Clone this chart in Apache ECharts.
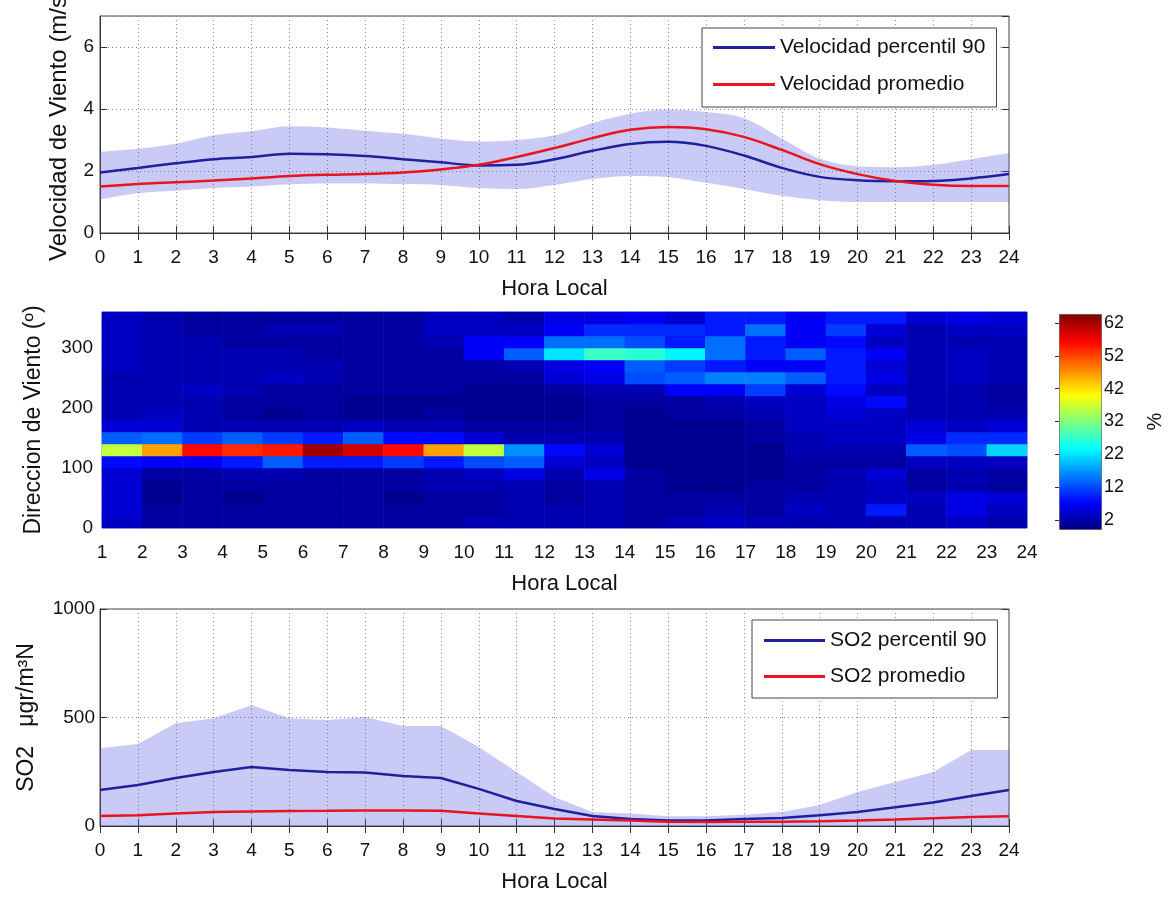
<!DOCTYPE html>
<html><head><meta charset="utf-8">
<script src="https://cdn.jsdelivr.net/npm/echarts@6/dist/echarts.min.js"></script>
<style>html,body{margin:0;padding:0;background:#fff}#c{width:1168px;height:897px}</style>
</head><body><div id="c"></div>
<script>
// ---------- DATA ----------
const horas = ['0','1','2','3','4','5','6','7','8','9','10','11','12','13','14','15','16','17','18','19','20','21','22','23','24'];
// Velocidad de viento (m/s)
const velP90  = [1.95,2.1,2.25,2.38,2.45,2.56,2.54,2.48,2.38,2.28,2.18,2.2,2.38,2.65,2.87,2.94,2.81,2.5,2.1,1.81,1.7,1.67,1.68,1.76,1.9];
const velProm = [1.5,1.58,1.64,1.69,1.76,1.84,1.88,1.9,1.95,2.05,2.2,2.45,2.74,3.06,3.33,3.42,3.35,3.1,2.68,2.22,1.9,1.68,1.56,1.52,1.52];
const velSup  = [2.62,2.72,2.88,3.15,3.28,3.44,3.4,3.3,3.2,3.05,2.95,3.0,3.15,3.55,3.85,3.98,3.9,3.7,3.05,2.4,2.15,2.12,2.2,2.38,2.58];
const velInf  = [1.08,1.28,1.36,1.45,1.5,1.57,1.6,1.6,1.58,1.55,1.45,1.42,1.55,1.74,1.84,1.8,1.62,1.42,1.2,1.06,1.0,1.0,1.0,1.0,1.0];
// SO2 (ugr/m3N)
const so2P90  = [166,189,221,249,272,258,249,247,230,221,171,115,78,46,32,25,25,32,37,50,65,86,108,138,166];
const so2Prom = [46,50,58,65,67,69,70,72,72,70,58,46,34,30,25,20,18,20,20,22,25,30,36,42,45];
const so2Sup  = [358,378,474,497,557,497,488,502,461,461,364,249,134,65,58,45,45,52,65,97,157,203,249,350,350];
const so2Inf  = [0,0,0,0,0,0,0,0,0,0,0,0,0,0,0,0,0,0,0,0,0,0,0,0,0];
// Direccion de viento: frecuencia (%) por hora (columnas 1-2 ... 23-24) y sector de 20 grados (filas 0-20 ... 340-360)
const horaBins = ['1','2','3','4','5','6','7','8','9','10','11','12','13','14','15','16','17','18','19','20','21','22','23'];
const dirBins = ['0','20','40','60','80','100','120','140','160','180','200','220','240','260','280','300','320','340'];
const frec = [
  [6,4,4,4,4,4, 4,4,4,5,5,5, 5,4,5,6,5,5, 5,5,5,6,5],
  [7,4,4,4,4,4, 4,4,4,4,5,5, 5,4,4,5,4,6, 5,11,5,8,6],
  [7,3,4,3,4,4, 4,3,4,4,5,4, 5,4,4,4,4,5, 5,6,6,8,7],
  [7,3,4,4,4,4, 4,4,5,5,5,4, 5,4,3,3,4,4, 5,6,4,5,4],
  [7,4,4,5,5,4, 4,4,5,6,8,5, 8,4,3,3,3,4, 5,7,4,5,4],
  [10,9,9,11,15,11, 11,13,11,14,15,7, 6,3,3,3,3,4, 4,4,6,6,6],
  [36,45,54,52,53,60, 57,54,45,36,18,10, 7,3,3,3,3,5, 5,5,15,14,22],
  [15,16,13,15,13,11, 15,10,10,7,5,5, 5,3,3,3,4,5, 6,6,8,12,12],
  [7,7,5,5,5,5, 6,5,5,4,4,4, 4,3,3,3,4,6, 6,6,7,6,7],
  [5,6,5,4,3,4, 3,3,4,3,3,3, 4,3,4,4,5,6, 7,6,5,5,5],
  [5,5,5,4,4,4, 3,3,3,3,3,3, 4,4,4,5,6,6, 8,10,5,5,4],
  [5,5,6,5,4,4, 4,4,4,3,3,4, 5,5,9,9,13,7, 10,6,5,5,4],
  [5,5,5,5,6,5, 4,4,4,4,4,7, 8,14,15,17,17,15, 11,8,5,6,5],
  [6,5,5,5,5,5, 4,4,4,4,5,8, 9,15,13,11,9,9, 11,7,5,6,5],
  [6,5,5,5,5,4, 4,4,4,9,15,23, 28,27,24,16,11,15, 11,9,5,6,5],
  [6,5,5,4,4,4, 4,4,5,9,9,16, 16,14,11,16,11,9, 10,6,5,5,5],
  [6,5,4,4,5,5, 4,4,6,6,6,9, 12,12,12,11,16,9, 13,7,5,6,6],
  [6,5,4,4,4,4, 4,4,6,6,5,8, 8,9,7,11,11,9, 11,11,7,8,7]
];
const colorbarMin = 2, colorbarMax = 62;

// ---------- BUILD ----------
const diff = (a, b) => a.map((v, i) => +(v - b[i]).toFixed(3));
const heatData = [];
frec.forEach((row, r) => row.forEach((v, c) => heatData.push([c, r, v])));

const FONT = 'Liberation Sans, Arial, Helvetica, sans-serif';
const AX = '#333';
const BLUE = '#20209f', RED = '#e8141e';
const BAND = 'rgba(80,80,230,0.30)';
const gridDot = { show: true, interval: 0, lineStyle: { color: '#8a8a8a', type: [1, 3], width: 1 } };
const tickIn = { show: true, inside: true, length: 7, lineStyle: { color: AX } };
const lbl = { color: '#111', fontSize: 19, fontFamily: FONT };
const nameSty = { color: '#111', fontSize: 22, fontFamily: FONT };

function hourCat(grid, name, pos, showAll) {
  return {
    type: 'category', gridIndex: grid, data: horas, boundaryGap: false, position: pos,
    axisLine: { show: showAll, lineStyle: { color: AX } },
    axisTick: Object.assign({ interval: 0 }, tickIn),
    splitLine: showAll ? gridDot : { show: false },
    axisLabel: showAll ? Object.assign({ margin: 15, interval: 0 }, lbl) : { show: false },
    name: showAll ? name : '', nameLocation: 'middle', nameGap: 45, nameTextStyle: nameSty
  };
}
function rightTicks(grid, mx, iv) {
  return { type: 'value', gridIndex: grid, min: 0, max: mx, interval: iv, position: 'right',
    axisLine: { show: false }, axisTick: tickIn, axisLabel: { show: false }, splitLine: { show: false } };
}
const gBase = { show: true, borderColor: '#444', borderWidth: 1, backgroundColor: 'transparent', containLabel: false, outerBoundsMode: 'none' };
const legendBase = {
  orient: 'vertical', icon: 'rect', itemHeight: 3, itemGap: 16,
  backgroundColor: '#fff', borderColor: '#444', borderWidth: 1, borderRadius: 0,
  textStyle: { color: '#111', fontSize: 21, lineHeight: 20, fontFamily: FONT }
};

const option = {
  animation: false,
  backgroundColor: '#fff',
  textStyle: { fontFamily: FONT },
  grid: [
    Object.assign({}, gBase, { left: 100, top: 16, width: 909, height: 217 }),
    Object.assign({}, gBase, { left: 102, top: 312, width: 925, height: 216, borderColor: '#7a86b0' }),
    Object.assign({}, gBase, { left: 102, top: 312, width: 925, height: 216, show: false }),
    Object.assign({}, gBase, { left: 100, top: 609, width: 909, height: 217 }),
    Object.assign({}, gBase, { left: 1059, top: 323, width: 42, height: 197, show: false })
  ],
  xAxis: [
    hourCat(0, 'Hora Local', 'bottom', true),
    hourCat(0, '', 'top', false),
    { type: 'category', gridIndex: 1, data: horaBins, show: false },
    { type: 'value', gridIndex: 2, min: 1, max: 24, interval: 1, position: 'bottom',
      axisLine: { show: false }, axisTick: { show: false }, splitLine: { show: false },
      axisLabel: Object.assign({ margin: 15 }, lbl),
      name: 'Hora Local', nameLocation: 'middle', nameGap: 45, nameTextStyle: nameSty },
    hourCat(3, 'Hora Local', 'bottom', true),
    hourCat(3, '', 'top', false),
    { type: 'value', gridIndex: 4, min: 0, max: 1, show: false }
  ],
  yAxis: [
    { type: 'value', gridIndex: 0, min: 0, max: 7, interval: 2,
      axisLine: { show: true, lineStyle: { color: AX } }, axisTick: tickIn, splitLine: gridDot,
      axisLabel: Object.assign({ margin: 6, showMaxLabel: false }, lbl),
      name: 'Velocidad de Viento (m/s)', nameLocation: 'middle', nameGap: 29,
      nameTextStyle: Object.assign({}, nameSty, { fontSize: 24 }) },
    rightTicks(0, 7, 2),
    { type: 'category', gridIndex: 1, data: dirBins, show: false },
    { type: 'value', gridIndex: 2, min: 0, max: 360, interval: 100,
      axisLine: { show: false }, axisTick: { show: false }, splitLine: { show: false },
      axisLabel: Object.assign({ margin: 9, showMaxLabel: false }, lbl),
      name: 'Direccion de Viento (º)', nameLocation: 'middle', nameGap: 57,
      nameTextStyle: Object.assign({}, nameSty, { fontSize: 23 }) },
    { type: 'value', gridIndex: 3, min: 0, max: 1000, interval: 500,
      axisLine: { show: true, lineStyle: { color: AX } }, axisTick: tickIn, splitLine: gridDot,
      axisLabel: Object.assign({ margin: 5, formatter: (v) => String(v) }, lbl),
      name: 'SO2   μgr/m³N', nameLocation: 'middle', nameGap: 62,
      nameTextStyle: Object.assign({}, nameSty, { fontSize: 23 }) },
    rightTicks(3, 1000, 500),
    { type: 'value', gridIndex: 4, min: colorbarMin, max: colorbarMax, interval: 10, position: 'right',
      axisLine: { show: false }, axisTick: { show: true, inside: true, length: 4, lineStyle: { color: '#333' } },
      splitLine: { show: false },
      axisLabel: { margin: 3, color: '#111', fontSize: 18, fontFamily: FONT },
      name: '%', nameLocation: 'middle', nameGap: 44, nameTextStyle: { color: '#111', fontSize: 20, fontFamily: FONT } }
  ],
  legend: [
    Object.assign({}, legendBase, { data: ['Velocidad percentil 90', 'Velocidad promedio'], left: 702, top: 28,
      padding: [9, 11, 12, 11], itemWidth: 62 }),
    Object.assign({}, legendBase, { data: ['SO2 percentil 90', 'SO2 promedio'], left: 752, top: 620,
      padding: [10, 11, 11, 12], itemWidth: 61, itemGap: 15 })
  ],
  visualMap: {
    type: 'continuous', min: colorbarMin, max: colorbarMax, seriesIndex: 4, calculable: false,
    left: 1059, top: 314, itemWidth: 42, itemHeight: 215, padding: 0,
    borderColor: '#555', borderWidth: 1,
    inRange: { color: ['#00007f','#0000ff','#007fff','#00ffff','#7fff7f','#ffff00','#ff7f00','#ff0000','#7f0000'] }
  },
  series: [
    { type: 'line', xAxisIndex: 0, yAxisIndex: 0, stack: 'vel', data: velInf, smooth: 0.35,
      symbol: 'none', lineStyle: { opacity: 0 }, silent: true, z: 1 },
    { type: 'line', xAxisIndex: 0, yAxisIndex: 0, stack: 'vel', data: diff(velSup, velInf), smooth: 0.35,
      symbol: 'none', lineStyle: { opacity: 0 }, areaStyle: { color: BAND, opacity: 1 }, silent: true, z: 1 },
    { name: 'Velocidad percentil 90', type: 'line', xAxisIndex: 0, yAxisIndex: 0, data: velP90, smooth: 0.35,
      symbol: 'none', lineStyle: { color: BLUE, width: 2.5 }, itemStyle: { color: BLUE }, z: 3 },
    { name: 'Velocidad promedio', type: 'line', xAxisIndex: 0, yAxisIndex: 0, data: velProm, smooth: 0.35,
      symbol: 'none', lineStyle: { color: RED, width: 2.5 }, itemStyle: { color: RED }, z: 3 },
    { type: 'heatmap', xAxisIndex: 2, yAxisIndex: 2, data: heatData, emphasis: { disabled: true }, silent: true },
    { type: 'line', xAxisIndex: 4, yAxisIndex: 4, stack: 'so2', data: so2Inf,
      symbol: 'none', lineStyle: { opacity: 0 }, silent: true, z: 1 },
    { type: 'line', xAxisIndex: 4, yAxisIndex: 4, stack: 'so2', data: diff(so2Sup, so2Inf),
      symbol: 'none', lineStyle: { opacity: 0 }, areaStyle: { color: BAND, opacity: 1 }, silent: true, z: 1 },
    { name: 'SO2 percentil 90', type: 'line', xAxisIndex: 4, yAxisIndex: 4, data: so2P90,
      symbol: 'none', lineStyle: { color: BLUE, width: 2.5 }, itemStyle: { color: BLUE }, z: 3 },
    { name: 'SO2 promedio', type: 'line', xAxisIndex: 4, yAxisIndex: 4, data: so2Prom,
      symbol: 'none', lineStyle: { color: RED, width: 2.5 }, itemStyle: { color: RED }, z: 3 }
  ]
};
const chart = echarts.init(document.getElementById('c'), null, { renderer: 'canvas' });
chart.setOption(option);
</script>
</body></html>
